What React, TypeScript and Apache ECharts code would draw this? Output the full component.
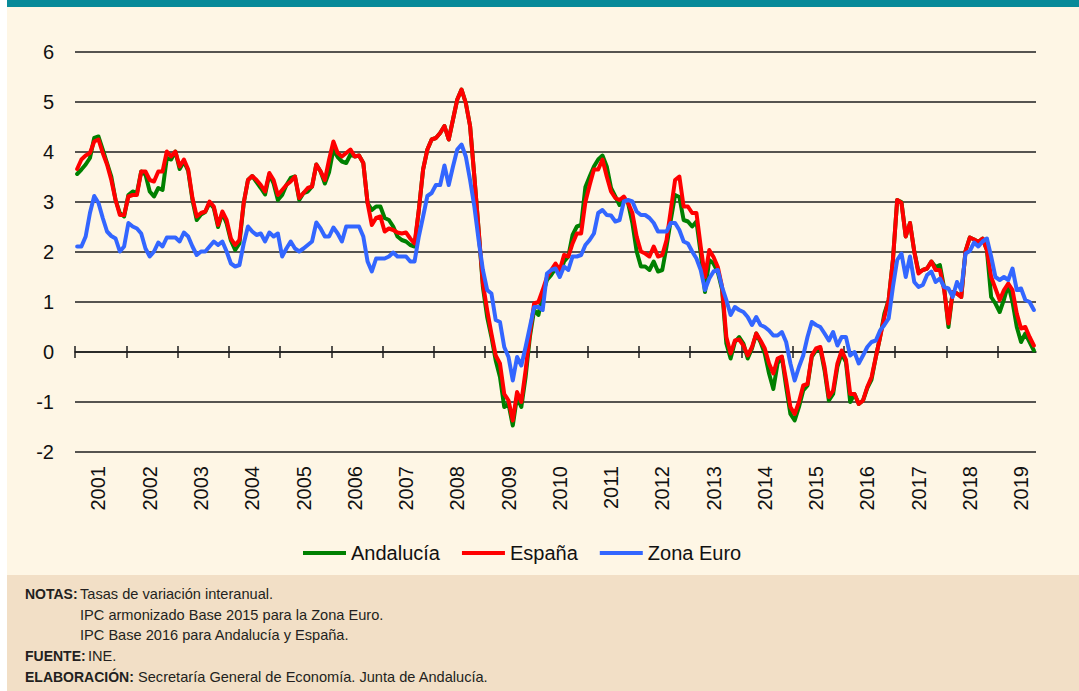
import React, { useEffect, useRef } from 'react';
import * as echarts from 'echarts';

const years = ['2001','2002','2003','2004','2005','2006','2007','2008','2009','2010','2011','2012','2013','2014','2015','2016','2017','2018','2019'];
const monthsShown = 225; // Jan 2001 - Sep 2019

const andalucia = [
  3.56, 3.65, 3.75, 3.88, 4.28, 4.31, 4.05, 3.78, 3.51, 3.04, 2.78, 2.71,
  3.14, 3.21, 3.18, 3.61, 3.55, 3.21, 3.11, 3.28, 3.24, 3.88, 3.85, 4.01,
  3.66, 3.81, 3.62, 3.04, 2.64, 2.75, 2.80, 2.98, 2.88, 2.50, 2.78, 2.57,
  2.23, 2.04, 2.17, 2.98, 3.44, 3.52, 3.40, 3.28, 3.15, 3.55, 3.37, 3.04,
  3.14, 3.34, 3.48, 3.51, 3.04, 3.18, 3.21, 3.31, 3.75, 3.61, 3.37, 3.60,
  4.05, 3.90, 3.81, 3.78, 3.95, 3.91, 3.93, 3.78, 2.98, 2.84, 2.91, 2.91,
  2.68, 2.64, 2.51, 2.31, 2.24, 2.21, 2.14, 2.11, 2.84, 3.65, 4.05, 4.25,
  4.28, 4.38, 4.52, 4.25, 4.65, 5.05, 5.25, 4.98, 4.52, 3.51, 2.44, 1.30,
  0.70, 0.30, -0.17, -0.50, -1.10, -1.04, -1.47, -0.90, -1.10, -0.50, 0.30, 0.84,
  0.74, 1.15, 1.44, 1.54, 1.67, 1.54, 1.81, 1.91, 2.34, 2.51, 2.54, 3.30,
  3.51, 3.71, 3.85, 3.93, 3.71, 3.28, 3.11, 2.94, 3.07, 2.98, 2.58, 2.01,
  1.71, 1.71, 1.64, 1.81, 1.61, 1.64, 2.11, 2.64, 3.14, 3.10, 2.64, 2.61,
  2.51, 2.61, 1.97, 1.20, 1.84, 1.77, 1.60, 1.25, 0.17, -0.13, 0.20, 0.30,
  0.17, -0.13, 0.07, 0.37, 0.20, -0.03, -0.43, -0.74, -0.23, -0.10, -0.70, -1.24,
  -1.37, -1.10, -0.77, -0.67, -0.10, 0.03, 0.07, -0.37, -0.97, -0.84, -0.30, -0.03,
  -0.20, -1.00, -0.84, -1.04, -0.97, -0.72, -0.55, -0.10, 0.30, 0.77, 1.04, 1.84,
  3.04, 3.00, 2.31, 2.58, 2.01, 1.60, 1.64, 1.67, 1.81, 1.70, 1.74, 1.28,
  0.50, 1.20, 1.17, 1.10, 2.02, 2.29, 2.25, 2.20, 2.27, 2.04, 1.10, 0.97,
  0.80, 1.05, 1.35, 1.00, 0.50, 0.20, 0.37, 0.20, 0.03,
];

const espana = [
  3.66, 3.85, 3.93, 3.98, 4.21, 4.25, 3.98, 3.75, 3.44, 3.04, 2.74, 2.74,
  3.11, 3.14, 3.14, 3.61, 3.61, 3.44, 3.41, 3.61, 3.61, 4.01, 3.91, 4.01,
  3.71, 3.85, 3.65, 3.08, 2.71, 2.78, 2.81, 3.01, 2.91, 2.54, 2.81, 2.64,
  2.27, 2.14, 2.24, 2.98, 3.44, 3.52, 3.44, 3.34, 3.21, 3.58, 3.44, 3.14,
  3.24, 3.34, 3.41, 3.51, 3.08, 3.18, 3.28, 3.31, 3.75, 3.61, 3.44, 3.85,
  4.21, 3.98, 3.91, 3.98, 4.05, 3.91, 3.93, 3.78, 2.98, 2.54, 2.68, 2.71,
  2.41, 2.47, 2.44, 2.39, 2.37, 2.39, 2.27, 2.17, 2.84, 3.65, 4.05, 4.25,
  4.28, 4.38, 4.52, 4.25, 4.65, 5.05, 5.25, 4.98, 4.52, 3.51, 2.44, 1.37,
  0.84, 0.37, -0.07, -0.23, -0.84, -0.97, -1.37, -0.80, -1.00, -0.37, 0.37, 0.97,
  1.00, 1.24, 1.50, 1.64, 1.77, 1.64, 1.94, 1.91, 2.17, 2.37, 2.37, 3.00,
  3.34, 3.65, 3.65, 3.85, 3.51, 3.21, 3.08, 3.04, 3.11, 2.98, 2.78, 2.31,
  2.01, 1.97, 1.91, 2.11, 1.91, 1.94, 2.24, 2.84, 3.44, 3.51, 2.91, 2.91,
  2.78, 2.78, 2.11, 1.50, 2.04, 1.90, 1.70, 1.30, 0.30, -0.03, 0.23, 0.25,
  0.13, -0.07, 0.10, 0.37, 0.23, 0.07, -0.23, -0.43, -0.13, -0.09, -0.57, -1.10,
  -1.24, -1.00, -0.67, -0.64, -0.07, 0.07, 0.10, -0.30, -0.90, -0.77, -0.23, 0.03,
  -0.15, -0.84, -0.84, -1.04, -0.97, -0.70, -0.50, -0.10, 0.30, 0.70, 1.04, 1.84,
  3.04, 2.98, 2.31, 2.58, 2.01, 1.57, 1.64, 1.67, 1.81, 1.64, 1.64, 1.24,
  0.57, 1.20, 1.17, 1.10, 2.02, 2.29, 2.25, 2.20, 2.27, 2.04, 1.50, 1.27,
  1.04, 1.24, 1.37, 1.24, 0.77, 0.47, 0.50, 0.30, 0.13,
];

const zonaEuro = [
  2.11, 2.11, 2.31, 2.78, 3.12, 2.98, 2.68, 2.41, 2.32, 2.27, 2.01, 2.11,
  2.58, 2.51, 2.47, 2.37, 2.07, 1.91, 2.01, 2.19, 2.11, 2.29, 2.29, 2.29,
  2.21, 2.39, 2.31, 2.11, 1.94, 2.01, 2.01, 2.11, 2.21, 2.14, 2.21, 2.01,
  1.77, 1.71, 1.74, 2.17, 2.51, 2.41, 2.34, 2.37, 2.21, 2.39, 2.31, 2.37,
  1.91, 2.07, 2.21, 2.07, 2.01, 2.07, 2.14, 2.21, 2.59, 2.47, 2.31, 2.31,
  2.49, 2.37, 2.21, 2.51, 2.51, 2.51, 2.51, 2.31, 1.81, 1.61, 1.87, 1.87,
  1.87, 1.91, 1.99, 1.91, 1.91, 1.91, 1.81, 1.81, 2.31, 2.71, 3.12, 3.18,
  3.34, 3.34, 3.73, 3.34, 3.71, 4.05, 4.15, 3.91, 3.44, 2.91, 2.24, 1.64,
  1.24, 1.17, 0.64, 0.60, 0.10, -0.10, -0.57, -0.10, -0.27, 0.10, 0.50, 0.90,
  0.90, 0.84, 1.57, 1.64, 1.67, 1.50, 1.71, 1.64, 1.91, 1.91, 1.94, 2.14,
  2.24, 2.37, 2.78, 2.84, 2.74, 2.73, 2.61, 2.64, 3.01, 3.04, 3.01, 2.81,
  2.74, 2.74, 2.68, 2.58, 2.41, 2.41, 2.41, 2.58, 2.58, 2.44, 2.21, 2.17,
  2.01, 1.87, 1.64, 1.24, 1.47, 1.61, 1.64, 1.30, 1.04, 0.74, 0.90, 0.84,
  0.80, 0.70, 0.54, 0.70, 0.54, 0.50, 0.43, 0.33, 0.33, 0.40, 0.20, -0.23,
  -0.57, -0.30, -0.07, 0.30, 0.60, 0.54, 0.50, 0.37, 0.23, 0.40, 0.13, 0.30,
  0.30, -0.07, 0.00, -0.23, -0.07, 0.10, 0.20, 0.23, 0.43, 0.54, 0.67, 1.30,
  1.84, 1.97, 1.50, 1.91, 1.40, 1.30, 1.34, 1.54, 1.61, 1.40, 1.47, 1.30,
  1.27, 1.10, 1.40, 1.24, 1.97, 2.02, 2.19, 2.11, 2.21, 2.27, 1.91, 1.50,
  1.44, 1.50, 1.44, 1.67, 1.24, 1.27, 1.04, 1.00, 0.84,
];

const yTicks = { min: -2, max: 6, interval: 1 };
const yearTickMonths = [0, 12, 24, 36, 48, 60, 72, 84, 96, 108, 120, 132, 144, 156, 168, 180, 192, 204, 216];

const seriesNames = ['Andalucía', 'España', 'Zona Euro'];
const seriesColors = ['#008000', '#FF0000', '#3366FF'];

const notes = [
  { label: 'NOTAS:', text: 'Tasas de variación interanual.' },
  { label: '', text: 'IPC armonizado Base 2015 para la Zona Euro.' },
  { label: '', text: 'IPC Base 2016 para Andalucía y España.' },
  { label: 'FUENTE:', text: 'INE.' },
  { label: 'ELABORACIÓN:', text: 'Secretaría General de Economía. Junta de Andalucía.' },
];

const months = ['01','02','03','04','05','06','07','08','09','10','11','12'];
const categories: string[] = [];
years.forEach((y) => months.forEach((m) => categories.push(`${y}-${m}`)));
const cats = categories.slice(0, monthsShown);

const FONT = '"Liberation Sans", Arial, Helvetica, sans-serif';
const AXIS_COLOR = '#1e1e1e';

export default function App() {
  const ref = useRef<HTMLDivElement>(null);
  useEffect(() => {
    if (!ref.current) return;
    const chart = echarts.init(ref.current, null, { renderer: 'svg' });
    const seriesData = [andalucia, espana, zonaEuro];

    const noteRows = [593.5, 614.5, 635, 656, 677];
    const noteTextX = [80, 80, 80, 88, 138];
    const graphic: any[] = [
      { type: 'rect', shape: { x: 0, y: 0, width: 7, height: 691 }, style: { fill: '#ffffff' }, silent: true },
      { type: 'rect', shape: { x: 7, y: 0, width: 1072, height: 7 }, style: { fill: '#088A99' }, silent: true },
      { type: 'rect', shape: { x: 7, y: 575, width: 1072, height: 116 }, style: { fill: '#F2DFC6' }, silent: true },
    ];
    notes.forEach((n, i) => {
      if (n.label) {
        graphic.push({
          type: 'text', x: 25, y: noteRows[i],
          style: { text: n.label, fill: '#231F20', font: `bold 14px ${FONT}`, verticalAlign: 'middle' },
        });
      }
      graphic.push({
        type: 'text', x: noteTextX[i], y: noteRows[i],
        style: { text: n.text, fill: '#231F20', font: `14.6px ${FONT}`, verticalAlign: 'middle' },
      });
    });

    const tickAxis = (inside: boolean, showLine: boolean) => ({
      type: 'value',
      min: 0,
      max: monthsShown,
      interval: 12,
      axisLine: { show: showLine, onZero: true, onZeroAxisIndex: 0, lineStyle: { color: AXIS_COLOR, width: 1.5 } },
      axisTick: { show: true, inside, length: 6, customValues: yearTickMonths, lineStyle: { color: AXIS_COLOR, width: 1.5 } },
      axisLabel: { show: false },
      splitLine: { show: false },
    });

    const option: any = {
      animation: false,
      backgroundColor: '#FEF6E5',
      textStyle: { fontFamily: FONT },
      grid: { left: 75, right: 43, top: 52, bottom: 239, containLabel: false },
      legend: {
        left: 303,
        top: 543,
        padding: 0,
        itemWidth: 43,
        itemHeight: 4,
        itemGap: 22,
        icon: 'rect',
        data: seriesNames,
        textStyle: { fontSize: 20, color: '#111', fontFamily: FONT },
      },
      xAxis: [
        {
          type: 'category',
          data: cats,
          position: 'bottom',
          boundaryGap: true,
          axisLine: { show: false, onZero: false },
          axisTick: { show: false },
          axisLabel: {
            interval: (idx: number) => idx % 12 === 5,
            formatter: (v: string) => v.slice(0, 4),
            rotate: 90,
            margin: 14,
            fontSize: 20,
            color: '#111',
            fontFamily: FONT,
          },
          splitLine: { show: false },
        },
        tickAxis(false, true),
        tickAxis(true, false),
      ],
      yAxis: {
        type: 'value',
        min: yTicks.min,
        max: yTicks.max,
        interval: yTicks.interval,
        axisLine: { show: false },
        axisTick: { show: false },
        axisLabel: { fontSize: 20, color: '#111', margin: 21, fontFamily: FONT },
        splitLine: { show: true, lineStyle: { color: AXIS_COLOR, width: 1.5 } },
      },
      series: seriesNames.map((name, i) => ({
        name,
        type: 'line',
        xAxisIndex: 0,
        data: seriesData[i],
        symbol: 'none',
        color: seriesColors[i],
        lineStyle: { width: 4, color: seriesColors[i], cap: 'round', join: 'round' },
        z: 3 + i,
      })),
      graphic,
    };
    chart.setOption(option);
    return () => chart.dispose();
  }, []);
  return (
    <div
      ref={ref}
      style={{ position: 'fixed', left: 0, top: 0, width: 1079, height: 691 }}
    />
  );
}
